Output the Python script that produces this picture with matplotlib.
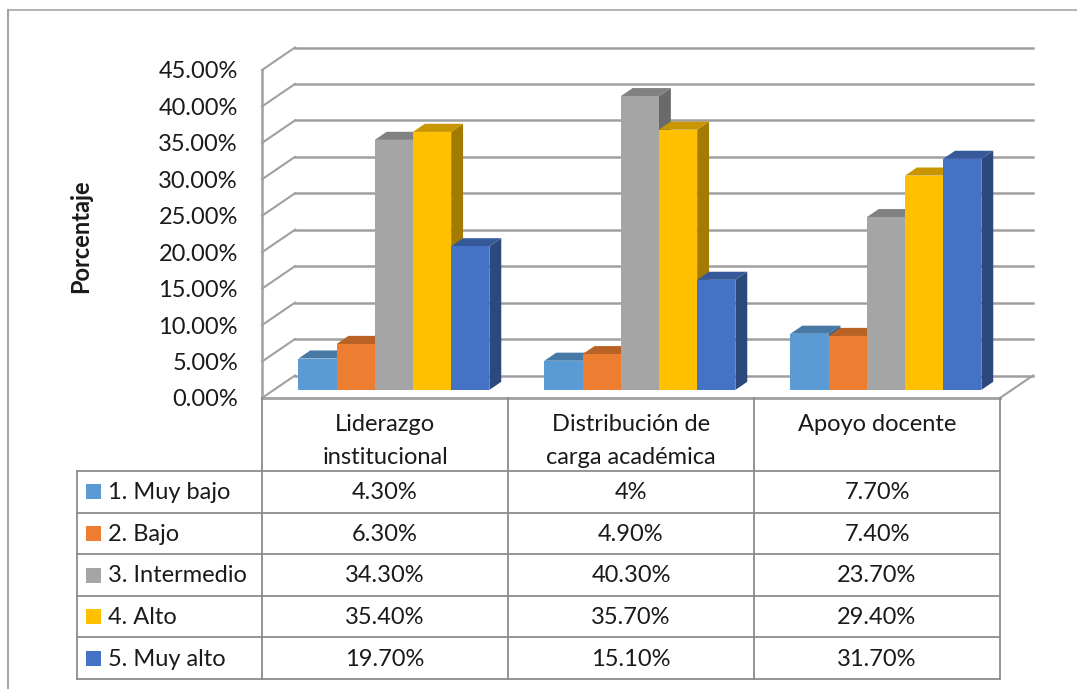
import matplotlib
matplotlib.use("Agg")
import matplotlib.pyplot as plt
from matplotlib.patches import Polygon, Rectangle
import matplotlib.colors as mcolors
import numpy as np

plt.rcParams['font.family'] = ['Lato', 'DejaVu Sans']

categories = [["Liderazgo", "institucional"],
              ["Distribución de", "carga académica"],
              ["Apoyo docente"]]
series = ["1. Muy bajo", "2. Bajo", "3. Intermedio", "4. Alto", "5. Muy alto"]
muy_bajo = [4.3, 4.0, 7.7]
bajo = [6.3, 4.9, 7.4]
intermedio = [34.3, 40.3, 23.7]
alto = [35.4, 35.7, 29.4]
muy_alto = [19.7, 15.1, 31.7]
values = [muy_bajo, bajo, intermedio, alto, muy_alto]
colors = ["#5B9BD5", "#ED7D31", "#A5A5A5", "#FFC000", "#4472C4"]
yticks = np.arange(0, 46, 5)

# pixel layout of the fake 3d box
W, H = 1077, 689
X0, X1 = 262, 1000          # front floor edge
Y0 = 398                    # front 0% line
K = 328 / 45                # px per percent
DX, DY = 33, 22.5           # depth offset of back wall
D0, D1 = 0.36, 0.72         # bar depth (front/back)
cat_w = (X1 - X0) / len(categories)
bw = 38.2

def proj(x, v, d):
    return x + d * DX, Y0 - d * DY - v * K

def fmt(v):
    return f"{v:.0f}%" if float(v).is_integer() else f"{v:.2f}%"

fig = plt.figure(figsize=(W / 100, H / 100), dpi=100)
ax = fig.add_axes([0, 0, 1, 1])
ax.set_xlim(0, W)
ax.set_ylim(H, 0)
ax.axis('off')

txt_c = "#1a1a1a"
grid_c = "#a0a0a0"
# outer frame (top and left only visible)
ax.plot([8, W], [10, 10], color="#a6a6a6", lw=1.2)
ax.plot([8, 8], [10, H], color="#a6a6a6", lw=1.5)

# back wall gridlines + left wall diagonals
for t in yticks:
    xb, yb = proj(X0, t, 1)
    ax.plot([xb, X1 + DX], [yb, yb], color=grid_c, lw=1.8, zorder=1)
    xf, yf = proj(X0, t, 0)
    ax.plot([xf, xb], [yf, yb], color=grid_c, lw=1.5, zorder=1)
    ax.text(238, yf + 2, f"{t:.2f}%", ha='right', va='center', fontsize=17, color=txt_c)
ax.plot([X0, X0], [Y0, proj(X0, yticks[-1], 0)[1]], color=grid_c, lw=1.8, zorder=1)
# floor right edge
xr, yr = proj(X1, 0, 1)
ax.plot([X1, xr], [Y0, yr], color=grid_c, lw=1.5, zorder=1)
ax.plot([X0, X1], [Y0, Y0], color=grid_c, lw=2, zorder=1)

# bars
for i in range(len(categories)):
    left0 = X0 + i * cat_w + (cat_w - len(series) * bw) / 2 - 3
    for j, col in enumerate(colors):
        v = values[j][i]
        base = np.array(mcolors.to_rgb(col))
        xl = left0 + j * bw
        fl, fb = proj(xl, 0, D0)
        _, ft = proj(xl, v, D0)
        fr = fl + bw
        bx, bt = proj(xl + bw, v, D1)
        _, bb = proj(xl + bw, 0, D1)
        side = Polygon([(fr, fb), (fr, ft), (bx, bt), (bx, bb)], closed=True,
                       facecolor=base * 0.64, edgecolor='none', zorder=2)
        top = Polygon([(fl, ft), (fr, ft), (bx, bt), (bx - bw, bt)], closed=True,
                      facecolor=base * 0.78, edgecolor='none', zorder=2)
        front = Rectangle((fl, ft), bw, fb - ft, facecolor=col, edgecolor='none', zorder=2)
        for p in (side, top, front):
            ax.add_patch(p)

ax.text(81, 236, "Porcentaje", rotation=90, ha='center', va='center',
        fontsize=17, fontweight='bold', color=txt_c)

# data table
line_c = "#8c8c8c"
TL = 77
row_top = 471
row_h = (679 - 471) / len(series)
for k in range(len(categories) + 1):
    x = X0 + k * cat_w
    ax.plot([x, x], [Y0, 679], color=line_c, lw=1.3, zorder=3)
ax.plot([TL, TL], [row_top, 679], color=line_c, lw=1.3, zorder=3)
for r in range(len(series) + 1):
    y = row_top + r * row_h
    ax.plot([TL, X1], [y, y], color=line_c, lw=1.3, zorder=3)

for i, lines in enumerate(categories):
    cx = X0 + (i + 0.5) * cat_w
    for n, s in enumerate(lines):
        ax.text(cx, 431 + n * 33, s, ha='center', va='baseline', fontsize=17, color=txt_c)

for j, name in enumerate(series):
    cy = row_top + (j + 0.5) * row_h
    ax.add_patch(Rectangle((86, cy - 7.5), 15, 15, facecolor=colors[j], edgecolor='none', zorder=3))
    ax.text(108, cy + 1, name, ha='left', va='center', fontsize=17, color=txt_c)
    for i in range(len(categories)):
        cx = X0 + (i + 0.5) * cat_w
        ax.text(cx, cy + 1, fmt(values[j][i]), ha='center', va='center', fontsize=17, color=txt_c)

fig.savefig("out.png", dpi=100, facecolor='white')
